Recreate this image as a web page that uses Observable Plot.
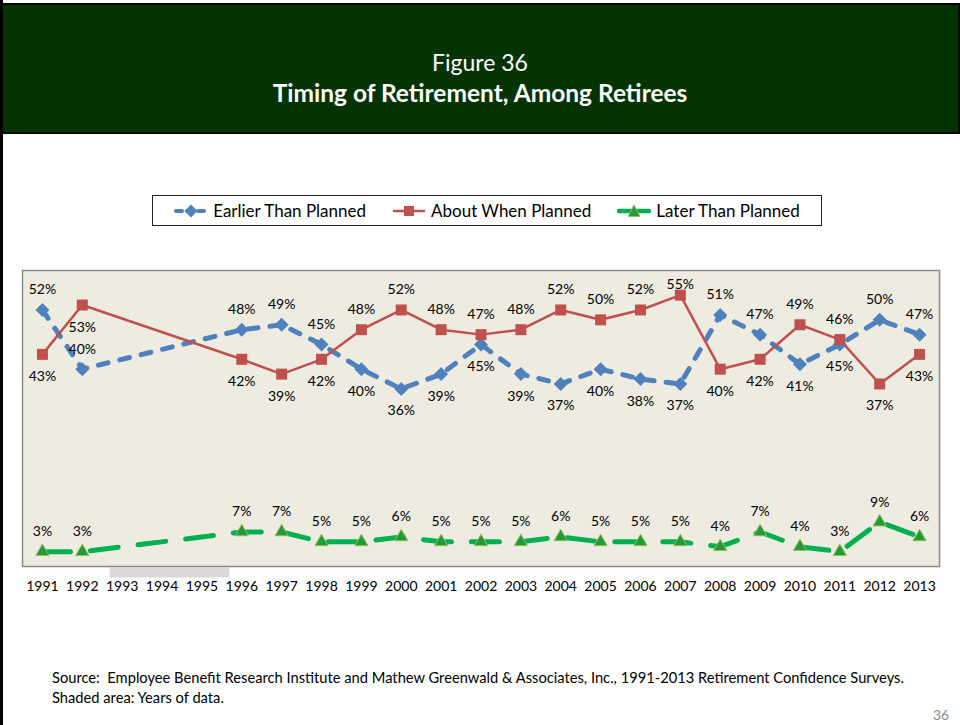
<!DOCTYPE html>
<html>
<head>
<meta charset="utf-8">
<script src="https://cdn.jsdelivr.net/npm/d3@7"></script>
<script src="https://cdn.jsdelivr.net/npm/@observablehq/plot@0.6"></script>
<style>
  html, body { margin: 0; padding: 0; background: #fff; }
  #page { position: relative; width: 960px; height: 725px; overflow: hidden; font-family: Lato, "Open Sans", sans-serif; background: #fff; }
  #leftrule { position: absolute; left: 0; top: 0; width: 3px; height: 725px; background: #000; }
  #header { position: absolute; left: 0; top: 3px; width: 960px; height: 131px; box-sizing: border-box; border: 2px solid #000; background: #033301; color: #fff; text-align: center; }
  #header .l1 { position: absolute; left: 0; right: 0; top: 43px; font-size: 23px; line-height: 28px; }
  #header .l2 { position: absolute; left: 0; right: 0; top: 73px; font-size: 24.5px; line-height: 30px; font-weight: bold; }
  #legend { position: absolute; left: 152px; top: 195px; width: 670px; height: 31px; box-sizing: border-box; border: 1px solid #222; background: #fff; display: flex; align-items: center; justify-content: center; font-size: 17px; color: #000; }
  #legend .item { display: flex; align-items: center; margin: 0 13px; }
  #legend svg { margin-right: 5px; }
  #chart { position: absolute; left: 0; top: 260px; }
  #footer { position: absolute; left: 52px; top: 667px; font-size: 14.7px; line-height: 20px; color: #000; }
  #pagenum { position: absolute; left: 933px; top: 706px; font-size: 14px; color: #8c8c8c; }
</style>
</head>
<body>
<div id="page">
  <div id="header">
    <div class="l1">Figure 36</div>
    <div class="l2">Timing of Retirement, Among Retirees</div>
  </div>
  <div id="leftrule"></div>
  <div id="legend"></div>
  <div id="chart"></div>
  <div id="footer">Source:&nbsp; Employee Benefit Research Institute and Mathew Greenwald &amp; Associates, Inc., 1991-2013 Retirement Confidence Surveys.<br>Shaded area: Years of data.</div>
  <div id="pagenum">36</div>
</div>
<script>
// ---- Data ----
const axisYears = [1991,1992,1993,1994,1995,1996,1997,1998,1999,2000,2001,2002,2003,2004,2005,2006,2007,2008,2009,2010,2011,2012,2013];
const surveyYears = [1991,1992,1996,1997,1998,1999,2000,2001,2002,2003,2004,2005,2006,2007,2008,2009,2010,2011,2012,2013];
const earlier = [52,40,48,49,45,40,36,39,45,39,37,40,38,37,51,47,41,45,50,47];
const about   = [43,53,42,39,42,48,52,48,47,48,52,50,52,55,40,42,49,46,37,43];
const later   = [3,3,7,7,5,5,6,5,5,5,6,5,5,5,4,7,4,3,9,6];
const shadedYears = [1993, 1995];
const seriesNames = ["Earlier Than Planned","About When Planned","Later Than Planned"];

// ---- Styles ----
const C = {
  earlier: "#4F81BD",
  about: "#C0504D",
  later: "#00B050",
  laterMarker: "#229A3A",
  laterMarkerStroke: "#9BBB59"
};

const rows = surveyYears.map((year, i) => ({year, earlier: earlier[i], about: about[i], later: later[i]}));

const W = 960, H = 346, mT = 10, mB = 40, mL = 22, mR = 21;
const yMax = 60;
const k = (H - mT - mB) / yMax; // px per percentage point

function side(d, s) {
  if (s === "later") return "above";
  if (d.year === 1992) return s === "earlier" ? "above" : "below"; // labels sit between the crossing lines
  const hi = d.earlier > d.about ? "earlier" : "about";
  return s === hi ? "above" : "below";
}
function labelY(d, s) {
  const v = d[s];
  if (side(d, s) === "above") {
    const off = Math.min(20, (yMax - v) * k - 14);
    return v + off / k;
  }
  return v - 22 / k;
}

const shade = (index, scales, values, dimensions) => {
  const x = scales.x;
  const st = x(1994) - x(1993);
  const x1 = x(shadedYears[0]) - st / 2 + 8;
  const x2 = x(shadedYears[1]) + st / 2 + 8;
  const yb = dimensions.height - dimensions.marginBottom;
  const g = d3.create("svg:g");
  g.append("rect").attr("x", x1).attr("y", yb + 1.5).attr("width", x2 - x1).attr("height", 10).attr("fill", "#D9D9D9");
  return g.node();
};

const labelMarks = ["earlier", "about", "later"].map(s =>
  Plot.text(rows, {
    x: "year",
    y: d => labelY(d, s),
    text: d => d[s] + "%",
    fill: "#000",
    fontSize: 14,
    textAnchor: "middle",
    lineAnchor: "middle"
  })
);

const chart = Plot.plot({
  width: W,
  height: H,
  marginTop: mT,
  marginBottom: mB,
  marginLeft: mL,
  marginRight: mR,
  style: {fontFamily: "Lato, 'Open Sans', sans-serif", fontSize: "14px", background: "transparent", color: "#000", overflow: "visible"},
  x: {type: "linear", domain: [axisYears[0] - 0.5, axisYears[axisYears.length - 1] + 0.5], ticks: axisYears, tickFormat: d => String(d), tickSize: 0, tickPadding: 15, label: null},
  y: {domain: [0, yMax], axis: null},
  marks: [
    Plot.frame({fill: "#EEECE1"}),
    shade,
    Plot.frame({stroke: "#8A8A8A", strokeWidth: 1.5}),
    Plot.line(rows, {x: "year", y: "earlier", stroke: C.earlier, strokeWidth: 5, strokeDasharray: "10,12", strokeLinecap: "round", strokeLinejoin: "round"}),
    Plot.line(rows, {x: "year", y: "about", stroke: C.about, strokeWidth: 2.5}),
    Plot.line(rows, {x: "year", y: "later", stroke: C.later, strokeWidth: 5, strokeDasharray: "28,20", strokeLinecap: "round", strokeLinejoin: "round"}),
    Plot.dot(rows, {x: "year", y: "earlier", symbol: "diamond2", r: 6.3, fill: C.earlier, stroke: "none"}),
    Plot.dot(rows, {x: "year", y: "about", symbol: "square", r: 6.2, fill: C.about, stroke: "none"}),
    Plot.dot(rows, {x: "year", y: "later", symbol: "triangle", r: 4.9, fill: C.laterMarker, stroke: C.laterMarkerStroke, strokeWidth: 1}),
    ...labelMarks
  ]
});
document.getElementById("chart").appendChild(chart);

// ---- Legend ----
const legendSpec = [
  {name: seriesNames[0], color: C.earlier, dash: "6,5", width: 4, marker: "diamond"},
  {name: seriesNames[1], color: C.about, dash: null, width: 2.5, marker: "square"},
  {name: seriesNames[2], color: C.later, dash: null, width: 4.5, marker: "triangle"}
];
const legend = d3.select("#legend");
legendSpec.forEach(s => {
  const item = legend.append("div").attr("class", "item");
  const svg = item.append("svg").attr("width", 34).attr("height", 16);
  svg.append("line").attr("x1", 2).attr("x2", 32).attr("y1", 8).attr("y2", 8)
    .attr("stroke", s.color).attr("stroke-width", s.width)
    .attr("stroke-dasharray", s.dash).attr("stroke-linecap", "round");
  if (s.marker === "diamond") {
    svg.append("path").attr("d", "M17,1.5L23.5,8L17,14.5L10.5,8Z").attr("fill", s.color);
  } else if (s.marker === "square") {
    svg.append("rect").attr("x", 12).attr("y", 3).attr("width", 10).attr("height", 10).attr("fill", s.color);
  } else {
    svg.append("path").attr("d", "M17,2L23,13.5L11,13.5Z").attr("fill", C.laterMarker).attr("stroke", C.laterMarkerStroke).attr("stroke-width", 1);
  }
  item.append("span").text(s.name);
});
</script>
</body>
</html>
